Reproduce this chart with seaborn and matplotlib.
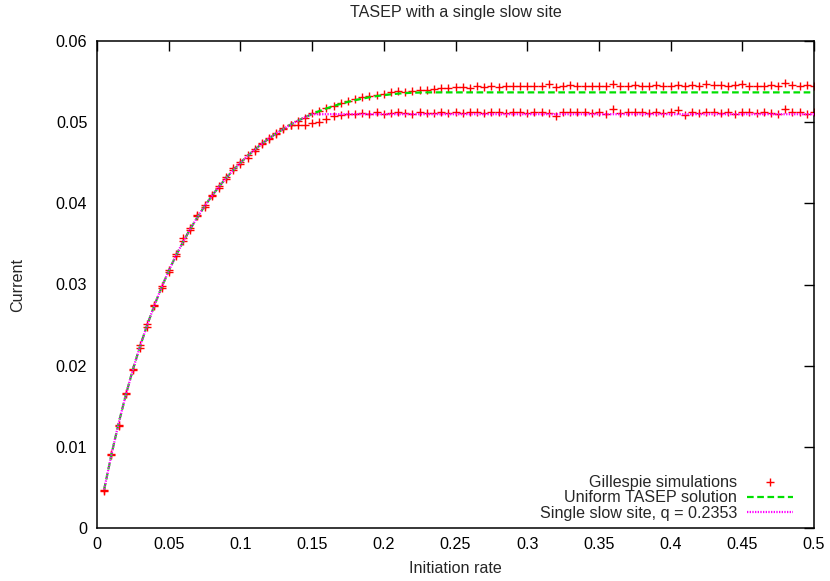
import matplotlib
matplotlib.use("Agg")
import matplotlib.pyplot as plt
import seaborn as sns
import numpy as np
import pandas as pd

# ---------------- data ----------------
alpha = [0.005, 0.010, 0.015, 0.020, 0.025, 0.030, 0.035, 0.040, 0.045, 0.050,
         0.055, 0.060, 0.065, 0.070, 0.075, 0.080, 0.085, 0.090, 0.095, 0.100,
         0.105, 0.110, 0.115, 0.120, 0.125, 0.130, 0.135, 0.140, 0.145, 0.150,
         0.155, 0.160, 0.165, 0.170, 0.175, 0.180, 0.185, 0.190, 0.195, 0.200,
         0.205, 0.210, 0.215, 0.220, 0.225, 0.230, 0.235, 0.240, 0.245, 0.250,
         0.255, 0.260, 0.265, 0.270, 0.275, 0.280, 0.285, 0.290, 0.295, 0.300,
         0.305, 0.310, 0.315, 0.320, 0.325, 0.330, 0.335, 0.340, 0.345, 0.350,
         0.355, 0.360, 0.365, 0.370, 0.375, 0.380, 0.385, 0.390, 0.395, 0.400,
         0.405, 0.410, 0.415, 0.420, 0.425, 0.430, 0.435, 0.440, 0.445, 0.450,
         0.455, 0.460, 0.465, 0.470, 0.475, 0.480, 0.485, 0.490, 0.495, 0.500]

# Gillespie simulations, uniform lattice
gillespie_uniform = [
    0.0047, 0.0090, 0.0127, 0.0165, 0.0196, 0.0226, 0.0248, 0.0273, 0.0298, 0.0318,
    0.0335, 0.0354, 0.0367, 0.0384, 0.0398, 0.0410, 0.0419, 0.0432, 0.0441, 0.0451,
    0.0456, 0.0467, 0.0473, 0.0481, 0.0485, 0.0493, 0.0497, 0.0502, 0.0505, 0.0511,
    0.0514, 0.0518, 0.0520, 0.0524, 0.0526, 0.0528, 0.0531, 0.0532, 0.0534, 0.0535,
    0.0537, 0.0538, 0.0537, 0.0539, 0.0540, 0.0540, 0.0541, 0.0542, 0.0542, 0.0543,
    0.0543, 0.0542, 0.0544, 0.0543, 0.0544, 0.0543, 0.0544, 0.0545, 0.0544, 0.0545,
    0.0544, 0.0545, 0.0547, 0.0543, 0.0545, 0.0546, 0.0545, 0.0545, 0.0544, 0.0545,
    0.0544, 0.0547, 0.0545, 0.0545, 0.0546, 0.0545, 0.0545, 0.0546, 0.0545, 0.0545,
    0.0546, 0.0545, 0.0546, 0.0545, 0.0547, 0.0546, 0.0546, 0.0545, 0.0546, 0.0547,
    0.0545, 0.0545, 0.0544, 0.0546, 0.0545, 0.0548, 0.0546, 0.0545, 0.0546, 0.0545]

# Gillespie simulations, single slow site
gillespie_slow = [
    0.0046, 0.0091, 0.0126, 0.0166, 0.0195, 0.0222, 0.0251, 0.0275, 0.0296, 0.0316,
    0.0337, 0.0357, 0.0369, 0.0386, 0.0396, 0.0409, 0.0421, 0.0430, 0.0443, 0.0448,
    0.0459, 0.0465, 0.0474, 0.0479, 0.0487, 0.0491, 0.0496, 0.0497, 0.0497, 0.0499,
    0.0500, 0.0504, 0.0508, 0.0509, 0.0510, 0.0510, 0.0511, 0.0510, 0.0512, 0.0510,
    0.0511, 0.0512, 0.0511, 0.0510, 0.0512, 0.0511, 0.0511, 0.0512, 0.0511, 0.0512,
    0.0511, 0.0512, 0.0513, 0.0511, 0.0512, 0.0513, 0.0511, 0.0512, 0.0512, 0.0511,
    0.0512, 0.0513, 0.0511, 0.0508, 0.0512, 0.0513, 0.0512, 0.0513, 0.0511, 0.0512,
    0.0510, 0.0516, 0.0511, 0.0512, 0.0513, 0.0512, 0.0511, 0.0512, 0.0511, 0.0512,
    0.0515, 0.0509, 0.0512, 0.0511, 0.0512, 0.0513, 0.0511, 0.0512, 0.0510, 0.0512,
    0.0513, 0.0511, 0.0512, 0.0511, 0.0510, 0.0516, 0.0513, 0.0512, 0.0510, 0.0512]

# theory curves
alpha_theory = [0.005, 0.010, 0.015, 0.020, 0.025, 0.030, 0.035, 0.040, 0.045, 0.050,
                0.055, 0.060, 0.065, 0.070, 0.075, 0.080, 0.085, 0.090, 0.095, 0.100,
                0.105, 0.110, 0.115, 0.120, 0.125, 0.130, 0.135, 0.140, 0.145, 0.150,
                0.155, 0.160, 0.165, 0.170, 0.175, 0.180, 0.185, 0.190, 0.195, 0.200,
                0.205, 0.210, 0.215, 0.220, 0.225, 0.230, 0.235, 0.240, 0.245, 0.250,
                0.300, 0.350, 0.400, 0.450, 0.500]
uniform_tasep = [0.00474, 0.00900, 0.01285, 0.01633, 0.01950, 0.02238, 0.02502, 0.02743, 0.02964, 0.03167,
                 0.03353, 0.03525, 0.03683, 0.03829, 0.03964, 0.04089, 0.04204, 0.04311, 0.04409, 0.04500,
                 0.04584, 0.04662, 0.04734, 0.04800, 0.04861, 0.04917, 0.04969, 0.05017, 0.05060, 0.05100,
                 0.05136, 0.05169, 0.05199, 0.05226, 0.05250, 0.05271, 0.05290, 0.05307, 0.05321, 0.05333,
                 0.05343, 0.05352, 0.05358, 0.05363, 0.05365, 0.05367, 0.05367, 0.05367, 0.05367, 0.05367,
                 0.05367, 0.05367, 0.05367, 0.05367, 0.05367]
slow_site = [0.00474, 0.00900, 0.01285, 0.01633, 0.01950, 0.02238, 0.02502, 0.02743, 0.02964, 0.03167,
             0.03353, 0.03525, 0.03683, 0.03829, 0.03964, 0.04089, 0.04204, 0.04311, 0.04409, 0.04500,
             0.04584, 0.04662, 0.04734, 0.04800, 0.04861, 0.04917, 0.04969, 0.05017, 0.05060, 0.05098,
             0.05098, 0.05098, 0.05098, 0.05098, 0.05098, 0.05098, 0.05098, 0.05098, 0.05098, 0.05098,
             0.05098, 0.05098, 0.05098, 0.05098, 0.05098, 0.05098, 0.05098, 0.05098, 0.05098, 0.05098,
             0.05098, 0.05098, 0.05098, 0.05098, 0.05098]

x_ticks = [0, 0.05, 0.1, 0.15, 0.2, 0.25, 0.3, 0.35, 0.4, 0.45, 0.5]
x_tick_labels = ["0", "0.05", "0.1", "0.15", "0.2", "0.25", "0.3", "0.35", "0.4", "0.45", "0.5"]
y_ticks = [0, 0.01, 0.02, 0.03, 0.04, 0.05, 0.06]
y_tick_labels = ["0", "0.01", "0.02", "0.03", "0.04", "0.05", "0.06"]

assert len(alpha) == len(gillespie_uniform) == len(gillespie_slow) == 100
assert len(alpha_theory) == len(uniform_tasep) == len(slow_site)

# ---------------- style ----------------
FS = 11.6
sns.set_style("white")
plt.rcParams["font.family"] = ["Liberation Sans", "DejaVu Sans"]
plt.rcParams["font.size"] = FS

fig = plt.figure(figsize=(8.30, 5.81), dpi=100)
ax = fig.add_axes([97 / 830, 1 - 528 / 581, 717 / 830, 487 / 581])

df_g = pd.DataFrame({"alpha": alpha, "uni": gillespie_uniform, "slow": gillespie_slow})
df_t = pd.DataFrame({"alpha": alpha_theory, "uni": uniform_tasep, "slow": slow_site})

sns.scatterplot(data=df_g, x="alpha", y="uni", marker="+", s=32, color="#ff0000",
                linewidth=1.0, ax=ax, label="Gillespie simulations", zorder=2)
sns.scatterplot(data=df_g, x="alpha", y="slow", marker="+", s=32, color="#ff0000",
                linewidth=1.0, ax=ax, label="_nolegend_", zorder=2)
sns.lineplot(data=df_t, x="alpha", y="uni", color="#00e000", linewidth=1.6, ax=ax,
             label="Uniform TASEP solution", zorder=3, estimator=None, sort=False)
ax.lines[-1].set_dashes([3, 1.6])
sns.lineplot(data=df_t, x="alpha", y="slow", color="#ff00ff", linewidth=1.6, ax=ax,
             label="Single slow site, q = 0.2353", zorder=4, estimator=None, sort=False)
ax.lines[-1].set_dashes([0.6, 0.6])

ax.set_xlim(0, 0.5)
ax.set_ylim(0, 0.06)
ax.set_xticks(x_ticks)
ax.set_xticklabels(x_tick_labels)
ax.set_yticks(y_ticks)
ax.set_yticklabels(y_tick_labels)
ax.tick_params(direction="in", length=7, width=1, top=True, right=True,
               labelsize=FS, colors="black")
ax.tick_params(axis="x", pad=6.5)
ax.tick_params(axis="y", pad=7)
for sp in ax.spines.values():
    sp.set_color("black")
    sp.set_linewidth(1.1)

ax.set_xlabel("Initiation rate", fontsize=FS)
ax.set_ylabel("Current", fontsize=FS)
ax.xaxis.set_label_coords(0.5, -0.068)
ax.yaxis.set_label_coords(-0.100, 0.5)
fig.text(455.5 / 830, 1 - 12 / 581, "TASEP with a single slow site", ha="center", va="center", fontsize=FS)

h, l = ax.get_legend_handles_labels()
leg = ax.legend(h, l, loc="lower right", bbox_to_anchor=(0.9707, 0.015), frameon=False,
                markerfirst=False, handlelength=2.86, handletextpad=0.62, labelspacing=0.03,
                borderpad=0, borderaxespad=0, fontsize=FS)

fig.savefig("out.png", dpi=100)
